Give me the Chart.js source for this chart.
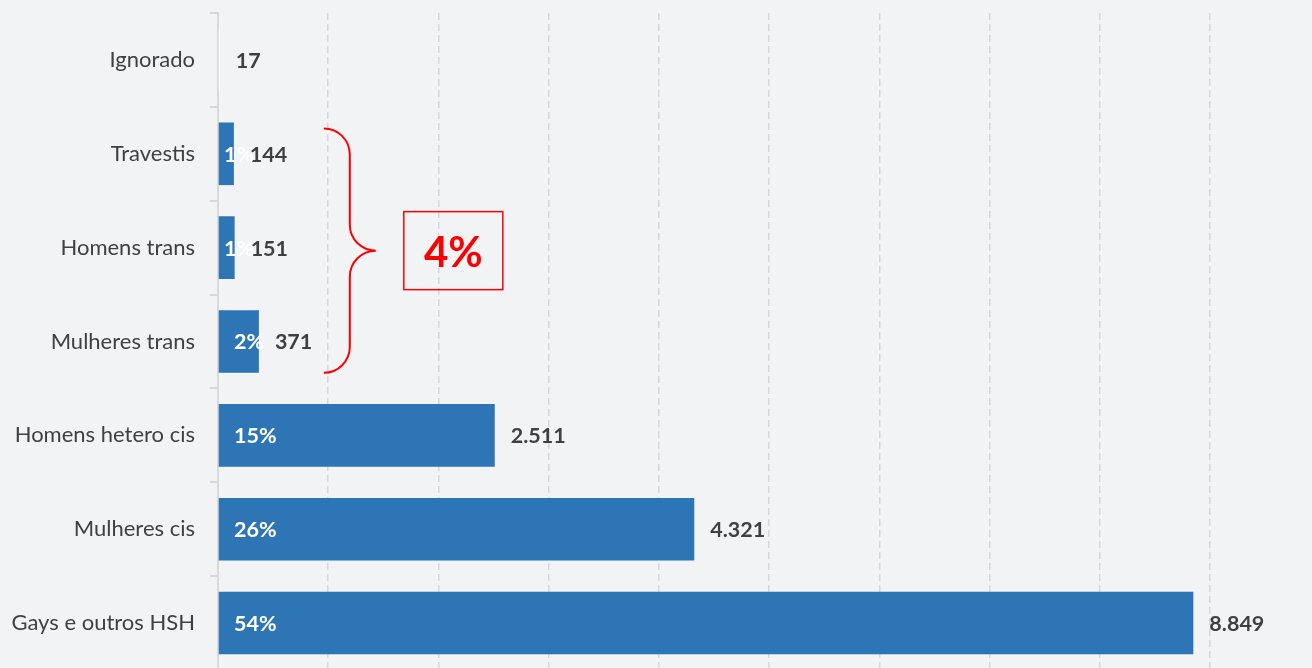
<!DOCTYPE html>
<html>
<head>
<meta charset="utf-8">
<script src="https://cdn.jsdelivr.net/npm/chart.js@4/dist/chart.umd.min.js"></script>
<style>
  html, body { margin: 0; padding: 0; background: #f2f3f5; overflow: hidden; }
  #wrap { width: 1312px; height: 672px; position: relative; }
</style>
</head>
<body>
<div id="wrap"><canvas id="myChart"></canvas></div>
<script>
const categories = ["Ignorado", "Travestis", "Homens trans", "Mulheres trans", "Homens hetero cis", "Mulheres cis", "Gays e outros HSH"];
const casos = [17, 144, 151, 371, 2511, 4321, 8849];
const percentuais = [null, "1%", "1%", "2%", "15%", "26%", "54%"];
const barColors = ["#ffffff", "#2e75b6", "#2e75b6", "#2e75b6", "#2e75b6", "#2e75b6", "#2e75b6"];
const xTicks = [0, 1000, 2000, 3000, 4000, 5000, 6000, 7000, 8000, 9000];
const destaque = { de: "Travestis", ate: "Mulheres trans", texto: "4%", xValor: 960 };

const canvas = document.getElementById("myChart");
const ctx = canvas.getContext("2d");

function formatBR(n) {
  return n.toString().replace(/\B(?=(\d{3})+(?!\d))/g, ".");
}

// rótulos de valor e percentual
const labelsPlugin = {
  id: "labelsPlugin",
  afterDatasetsDraw(chart) {
    const c = chart.ctx;
    const meta = chart.getDatasetMeta(0);
    const x0 = chart.scales.x.getPixelForValue(0);
    c.save();
    c.textBaseline = "middle";
    c.textAlign = "left";
    meta.data.forEach((bar, i) => {
      c.font = "bold 21.5px Lato";
      c.fillStyle = "#404040";
      c.fillText(formatBR(casos[i]), bar.x + 16, bar.y + 1);
      if (percentuais[i]) {
        const w = bar.x - x0;
        c.fillStyle = "#ffffff";
        c.fillText(percentuais[i], w < 30 ? x0 + 6 : x0 + 16, bar.y + 1);
      }
    });
    c.restore();
  }
};

// chave vermelha + caixa "4%"
const bracePlugin = {
  id: "bracePlugin",
  afterDraw(chart) {
    const c = chart.ctx;
    const meta = chart.getDatasetMeta(0);
    const i1 = categories.indexOf(destaque.de);
    const i2 = categories.indexOf(destaque.ate);
    const b1 = meta.data[i1], b2 = meta.data[i2];
    const top = b1.y - b1.height / 2 + 6;
    const bottom = b2.y + b2.height / 2;
    const mid = (top + bottom) / 2;
    const x0 = chart.scales.x.getPixelForValue(destaque.xValor);
    const r = 26;
    c.save();
    c.strokeStyle = "#ff0000";
    c.lineWidth = 2;
    c.beginPath();
    c.moveTo(x0, top);
    c.arc(x0, top + r, r, -Math.PI / 2, 0);
    c.lineTo(x0 + r, mid - r);
    c.arc(x0 + 2 * r, mid - r, r, Math.PI, Math.PI / 2, true);
    c.arc(x0 + 2 * r, mid + r, r, -Math.PI / 2, Math.PI, true);
    c.lineTo(x0 + r, bottom - r);
    c.arc(x0, bottom - r, r, 0, Math.PI / 2);
    c.stroke();

    const bx = x0 + 2 * r + 28, bw = 99, bh = 78;
    c.lineWidth = 1.5;
    c.strokeRect(bx, mid - bh / 2, bw, bh);
    c.fillStyle = "#ff0000";
    c.font = "bold 42px Lato";
    c.textAlign = "center";
    c.textBaseline = "middle";
    c.fillText(destaque.texto, bx + bw / 2, mid + 3);
    c.restore();
  }
};

const chart = new Chart(ctx, {
  type: "bar",
  data: {
    labels: categories,
    datasets: [
      {
        label: "Casos",
        data: casos,
        backgroundColor: barColors,
        borderWidth: 0,
        categoryPercentage: 1,
        barPercentage: 0.667,
      },
    ],
  },
  options: {
    indexAxis: "y",
    responsive: true,
    maintainAspectRatio: false,
    animation: false,
    layout: {
      padding: { top: 13, right: 102, bottom: 2, left: 0 }
    },
    scales: {
      x: {
        min: 0,
        max: 9000,
        afterBuildTicks: (scale) => {
          scale.ticks = xTicks.map(v => ({ value: v }));
        },
        afterFit: (scale) => { scale.height = 0; scale.paddingLeft = 0; scale.paddingRight = 0; },
        ticks: { display: false },
        grid: {
          drawTicks: false,
          color: (context) => context.tick && context.tick.value === 0 ? "rgba(0,0,0,0)" : "#d6d7d9",
          lineWidth: 1.5,
        },
        border: { display: false, dash: [7, 4] },
      },
      y: {
        afterFit: (scale) => { scale.width = 218; scale.paddingTop = 0; scale.paddingBottom = 0; },
        ticks: {
          color: "#404040",
          padding: 15,
          font: { family: "Lato", size: 22 },
        },
        grid: {
          drawOnChartArea: false,
          drawTicks: true,
          tickLength: 8,
          color: "#d9d9d9",
          lineWidth: 2,
        },
        border: { display: true, color: "#d9d9d9", width: 2 },
      },
    },
    plugins: {
      legend: { display: false },
      tooltip: { enabled: false },
    },
  },
  plugins: [labelsPlugin, bracePlugin],
});
</script>
</body>
</html>
